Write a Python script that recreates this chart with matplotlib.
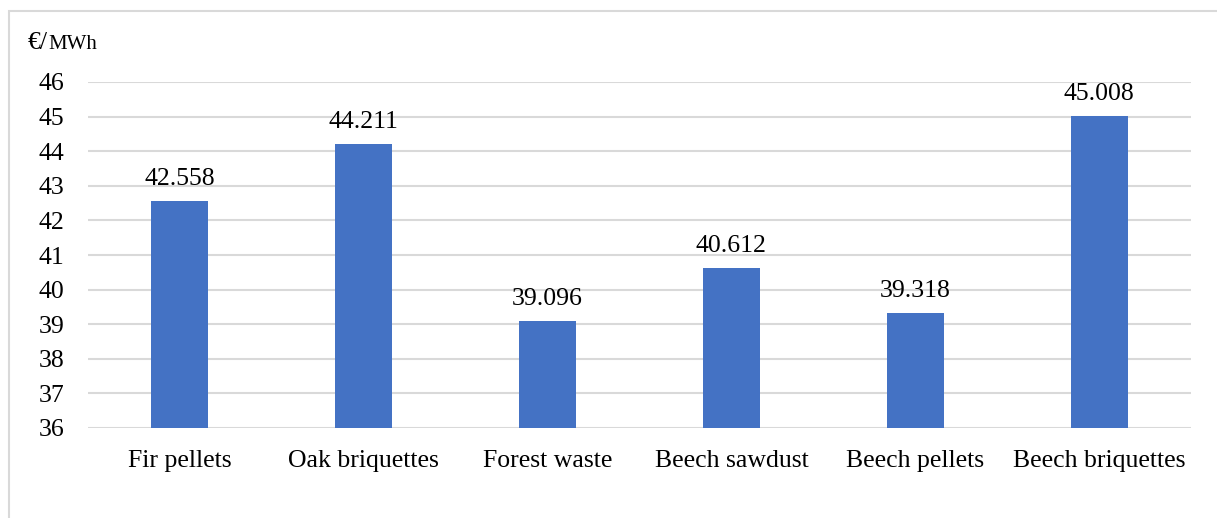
import matplotlib.pyplot as plt
from matplotlib.patches import Rectangle
import numpy as np

categories = ["Fir pellets", "Oak briquettes", "Forest waste", "Beech sawdust",
              "Beech pellets", "Beech briquettes"]
values = [42.558, 44.211, 39.096, 40.612, 39.318, 45.008]
yticks = list(range(36, 47))

plt.rcParams['font.family'] = ['Liberation Serif', 'DejaVu Serif']

fig = plt.figure(figsize=(12.17, 5.18), dpi=100)
# light frame around the chart (left and top edges visible)
fig.patches.append(Rectangle((9/1217, -0.1), 1.2, 1 - 11/518 + 0.1,
                             transform=fig.transFigure, fill=False,
                             edgecolor='#D9D9D9', linewidth=1.5))

ax = fig.add_axes([88/1217, 1 - 428/518, (1191 - 88)/1217, (428 - 82)/518])
x = np.arange(len(categories))
ax.bar(x, values, width=0.31, bottom=0, color='#4472C4', zorder=3)
ax.set_ylim(36, 46)
ax.set_xlim(-0.5, len(categories) - 0.5)
ax.set_yticks(yticks)
ax.set_xticks(x)
ax.set_xticklabels(categories)
ax.tick_params(axis='both', length=0, labelsize=18.5)
ax.tick_params(axis='y', pad=17)
ax.tick_params(axis='x', pad=16)
ax.grid(axis='y', color='#D9D9D9', linewidth=1.5, zorder=0)
for s in ax.spines.values():
    s.set_visible(False)

for xi, v in zip(x, values):
    ax.annotate(f"{v:.3f}", (xi, v), xytext=(0, 8), textcoords='offset points',
                ha='center', va='bottom', fontsize=18.5)

t1 = fig.text(28/1217, 1 - 49/518, "€/", fontsize=18.5, va='baseline')
ax.annotate("MWh", xy=(1, 0), xycoords=t1, fontsize=15, va='bottom')

fig.savefig("out.png", dpi=100)
